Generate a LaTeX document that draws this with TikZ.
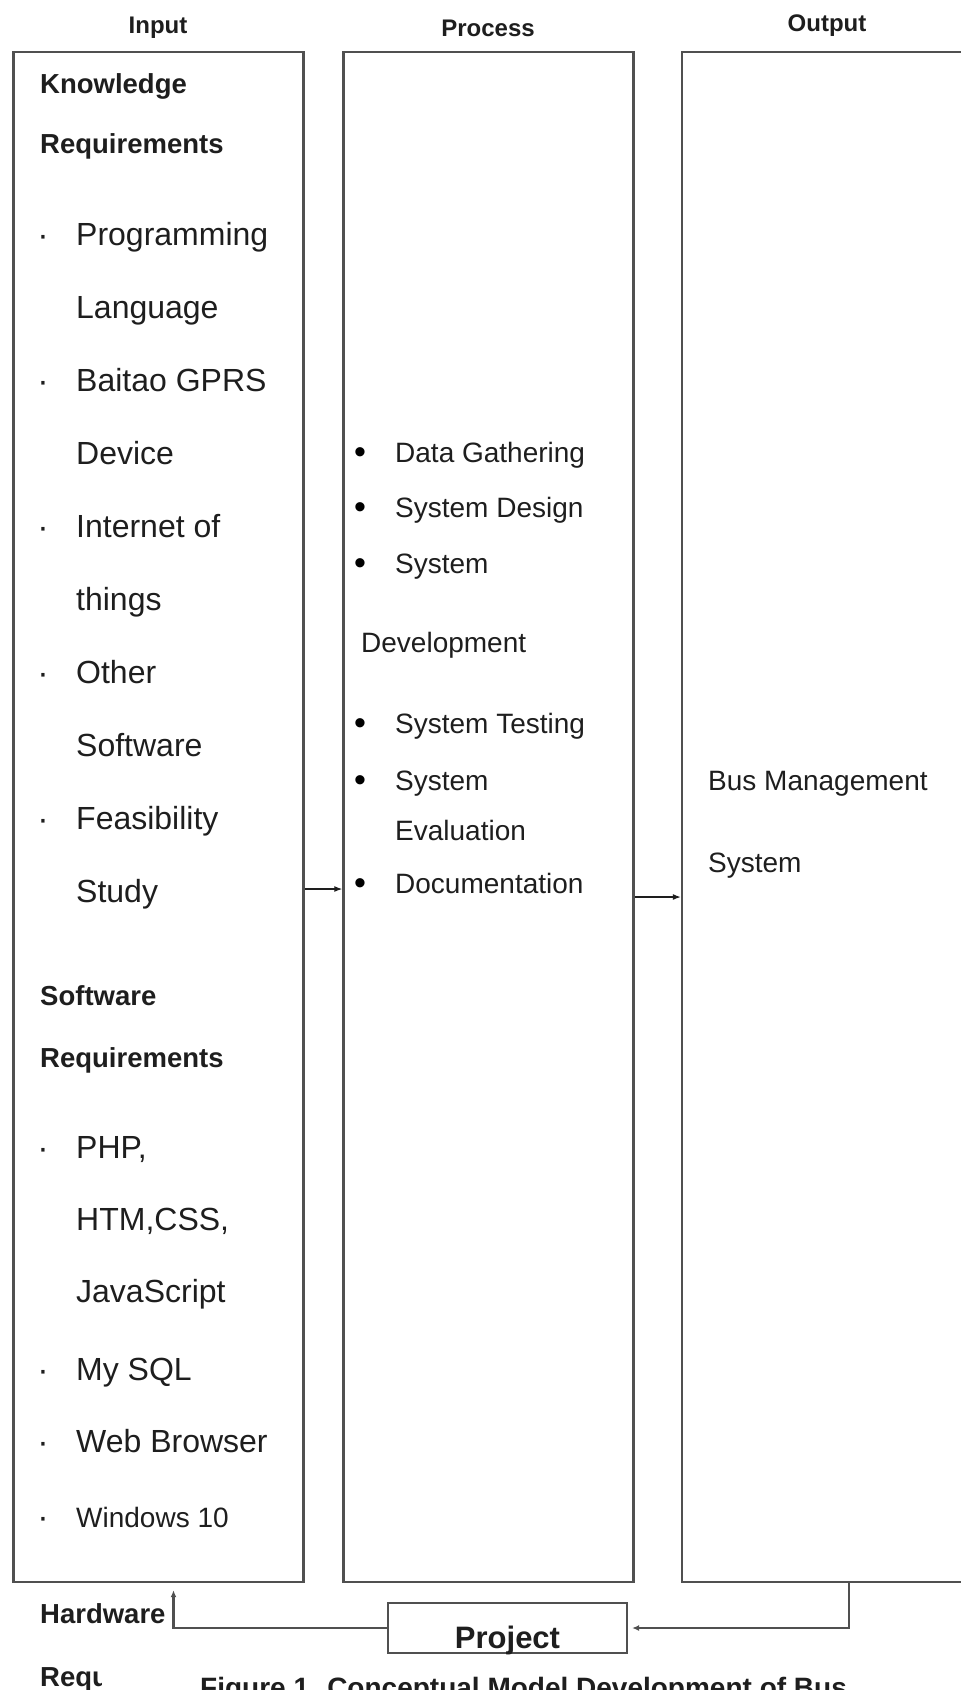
\documentclass[tikz,border=0pt]{standalone}
\usepackage{fontspec}
\setmainfont{Liberation Sans}
\usetikzlibrary{arrows.meta}
\definecolor{boxgray}{HTML}{505050}
\definecolor{inkgray}{HTML}{1E1E1E}

\begin{document}
\begin{tikzpicture}[x=1pt, y=-1pt,
  column/.style={draw=boxgray, line width=2.4pt, minimum width=290pt, minimum height=1530pt, inner sep=0pt},
  heading/.style={anchor=base, inner sep=0pt, text=inkgray, font=\fontsize{24}{28}\selectfont\bfseries},
  group/.style={anchor=base west, inner sep=0pt, text=inkgray, font=\fontsize{27.5}{33}\selectfont\bfseries},
  entry/.style={anchor=base west, inner sep=0pt, text=inkgray, font=\fontsize{32}{38}\selectfont},
  small/.style={anchor=base west, inner sep=0pt, text=inkgray, font=\fontsize{28}{34}\selectfont},
  middot/.style={anchor=base, inner sep=0pt, text=inkgray, font=\fontsize{34}{38}\selectfont},
  bigdot/.style={anchor=base, inner sep=0pt, text=black, font=\fontsize{34}{38}\selectfont},
  link/.style={draw=boxgray, line width=2.4pt, -{Latex[length=7pt,width=6pt]}},
  feed/.style={draw=inkgray, line width=1.2pt, -{Latex[length=8pt,width=6pt]}}]
\useasboundingbox (0,0) rectangle (961,1690);

% the three columns
\node[column] (input) at (158.5,817) {};
\node[column] (process) at (488.5,817) {};
\node[column] (output) at (827,817) {};

\node[heading] (inputhead) at (158,33) {Input};
\node[heading] (processhead) at (488,36) {Process};
\node[heading] (outputhead) at (827,31) {Output};

% input
\node[group] (know) at (40,93) {Knowledge};
\node[group] (knowreq) at (40,153) {Requirements};
\node[middot] (k1) at (43,246) {·};
\node[entry] (prog) at (76,245) {Programming};
\node[entry] (lang) at (76,318) {Language};
\node[middot] (k2) at (43,392) {·};
\node[entry] (baitao) at (76,391) {Baitao GPRS};
\node[entry] (device) at (76,464) {Device};
\node[middot] (k3) at (43,538) {·};
\node[entry] (iot) at (76,537) {Internet of};
\node[entry] (things) at (76,610) {things};
\node[middot] (k4) at (43,684) {·};
\node[entry] (other) at (76,683) {Other};
\node[entry] (othersw) at (76,756) {Software};
\node[middot] (k5) at (43,830) {·};
\node[entry] (feas) at (76,829) {Feasibility};
\node[entry] (study) at (76,902) {Study};
\node[group] (soft) at (40,1005) {Software};
\node[group] (softreq) at (40,1067) {Requirements};
\node[middot] (s1) at (43,1159) {·};
\node[entry] (php) at (76,1158) {PHP,};
\node[entry] (html) at (76,1230) {HTM,CSS,};
\node[entry] (js) at (76,1302) {JavaScript};
\node[middot] (s2) at (43,1381) {·};
\node[entry] (sql) at (76,1380) {My SQL};
\node[middot] (s3) at (43,1453) {·};
\node[entry] (browser) at (76,1452) {Web Browser};
\node[middot] (s4) at (43,1528) {·};
\node[small] (windows) at (76,1527) {Windows 10};

% process
\node[bigdot] (p1) at (360,463) {•};
\node[small] (gather) at (395,462) {Data Gathering};
\node[bigdot] (p2) at (360,518) {•};
\node[small] (design) at (395,517) {System Design};
\node[bigdot] (p3) at (360,574) {•};
\node[small] (devel) at (395,573) {System};
\node[small] (develb) at (361,652) {Development};
\node[bigdot] (p4) at (360,734) {•};
\node[small] (testing) at (395,733) {System Testing};
\node[bigdot] (p5) at (360,791) {•};
\node[small] (evalu) at (395,790) {System};
\node[small] (evalub) at (395,840) {Evaluation};
\node[bigdot] (p6) at (360,894) {•};
\node[small] (docu) at (395,893) {Documentation};

% output
\node[small] (bus) at (708,790) {Bus Management};
\node[small] (bussys) at (708,872) {System};

% feedback through the project
\node[draw=boxgray, line width=2.2pt, minimum width=239pt, minimum height=50pt, inner sep=0pt] (project) at (507.5,1628) {};
\node[anchor=base, inner sep=0pt, text=inkgray, font=\fontsize{31}{36}\selectfont\bfseries] (projtext) at ([yshift=-20pt]project.center) {Project};
\node[group] (hw) at (40,1623) {Hardware};
\begin{scope}
  \clip (0,1640) rectangle (101,1690);
  \node[group] (hwreq) at (40,1686) {Requ};
\end{scope}
\node[anchor=base west, inner sep=0pt, text=inkgray, font=\fontsize{28}{34}\selectfont\bfseries] (caption) at (200,1697) {Figure 1. Conceptual Model Development of Bus};

\draw[feed] ([yshift=-72pt]input.east) -- ([yshift=-72pt]process.west);
\draw[feed] ([yshift=-80pt]process.east) -- ([yshift=-80pt]output.west);
\draw[link, shorten >=4pt] ([xshift=22pt]output.south) |- (project.east);
\draw[link, shorten >=7pt] (project.west) -| ([xshift=15pt]input.south);
\end{tikzpicture}
\end{document}
